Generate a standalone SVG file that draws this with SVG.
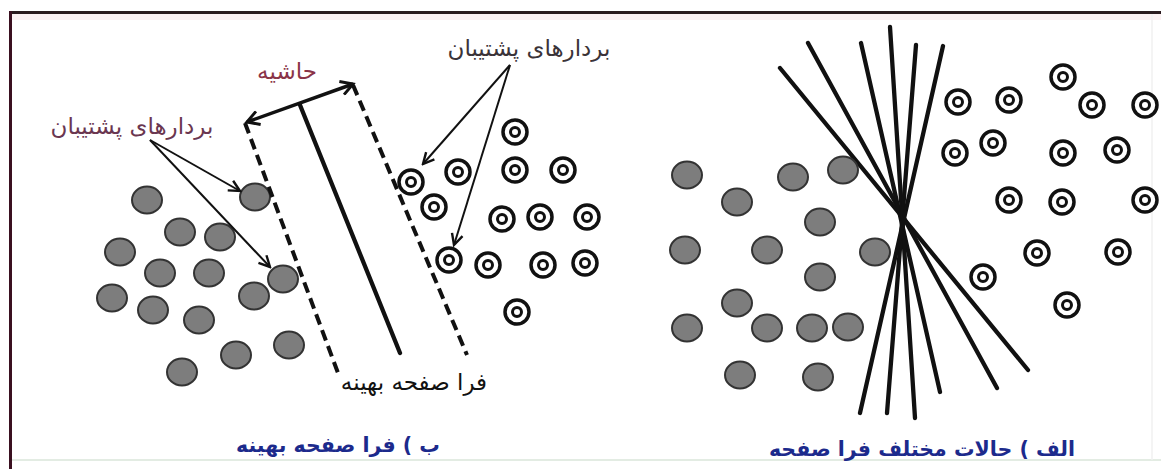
<svg xmlns="http://www.w3.org/2000/svg" width="1161" height="469" viewBox="0 0 1161 469">
<style>
.g{fill:#7d7d7d;stroke:#333;stroke-width:2}
.ro{fill:#fff;stroke:#111;stroke-width:3.5}
.ri{fill:#fff;stroke:#111;stroke-width:3}
.ln{stroke:#111;stroke-width:4.3;fill:none;stroke-linecap:round}
.dash{stroke:#111;stroke-width:4;fill:none;stroke-dasharray:11 6}
.arr{stroke:#111;stroke-width:2;fill:none}
.t{font-family:"DejaVu Sans",sans-serif;font-size:23px;text-anchor:middle}
.cap{font-family:"DejaVu Sans",sans-serif;font-size:20.5px;font-weight:bold;fill:#1c2a8c;text-anchor:middle}
</style>
<defs>
<marker id="ah" markerWidth="14" markerHeight="14" refX="12" refY="7" orient="auto" markerUnits="userSpaceOnUse">
<path d="M1,1.5 L12,7 L1,12.5" fill="none" stroke="#111" stroke-width="2.4"/>
</marker>
<marker id="ah2" markerWidth="16" markerHeight="16" refX="13" refY="8" orient="auto-start-reverse" markerUnits="userSpaceOnUse">
<path d="M1,1 L13,8 L1,15" fill="none" stroke="#111" stroke-width="3"/>
</marker>
<g id="ring"><circle r="12" class="ro"/><circle r="4.5" class="ri"/></g>
</defs>
<rect width="1161" height="469" fill="#fff"/>
<g id="frame">
<rect x="11" y="14" width="1150" height="6" fill="#fbf0f2"/>
<line x1="10" y1="12.5" x2="1161" y2="12.5" stroke="#2a1a1e" stroke-width="3"/>
<line x1="10.5" y1="11" x2="10.5" y2="469" stroke="#3a1020" stroke-width="3"/>
<line x1="12" y1="460" x2="1161" y2="460" stroke="#e3ece3" stroke-width="2"/>
<line x1="1152" y1="14" x2="1152" y2="460" stroke="#f0f0f0" stroke-width="1.5"/>
</g>
<g id="panel-b-negative">
<ellipse class="g" cx="147" cy="200" rx="15" ry="13.5"/>
<ellipse class="g" cx="255" cy="197" rx="15" ry="13.5"/>
<ellipse class="g" cx="180" cy="232" rx="15" ry="13.5"/>
<ellipse class="g" cx="220" cy="237" rx="15" ry="13.5"/>
<ellipse class="g" cx="120" cy="252" rx="15" ry="13.5"/>
<ellipse class="g" cx="160" cy="273" rx="15" ry="13.5"/>
<ellipse class="g" cx="209" cy="273" rx="15" ry="13.5"/>
<ellipse class="g" cx="283" cy="279" rx="15" ry="13.5"/>
<ellipse class="g" cx="112" cy="298" rx="15" ry="13.5"/>
<ellipse class="g" cx="153" cy="310" rx="15" ry="13.5"/>
<ellipse class="g" cx="254" cy="296" rx="15" ry="13.5"/>
<ellipse class="g" cx="199" cy="320" rx="15" ry="13.5"/>
<ellipse class="g" cx="289" cy="345" rx="15" ry="13.5"/>
<ellipse class="g" cx="236" cy="355" rx="15" ry="13.5"/>
<ellipse class="g" cx="182" cy="372" rx="15" ry="13.5"/>
</g>
<g id="panel-b-positive">
<use href="#ring" x="515" y="132"/>
<use href="#ring" x="411" y="182"/>
<use href="#ring" x="458" y="172"/>
<use href="#ring" x="515" y="170"/>
<use href="#ring" x="563" y="170"/>
<use href="#ring" x="434" y="207"/>
<use href="#ring" x="502" y="219"/>
<use href="#ring" x="540" y="217"/>
<use href="#ring" x="587" y="217"/>
<use href="#ring" x="449" y="260"/>
<use href="#ring" x="488" y="265"/>
<use href="#ring" x="543" y="265"/>
<use href="#ring" x="585" y="263"/>
<use href="#ring" x="517" y="312"/>
</g>
<g id="connectors">
<line class="dash" x1="245" y1="123" x2="338" y2="373"/>
<line class="dash" x1="353" y1="85" x2="467" y2="355"/>
<line class="ln" x1="300" y1="105" x2="400" y2="353"/>
<line x1="247" y1="122" x2="353" y2="84" stroke="#111" stroke-width="3.5" marker-start="url(#ah2)" marker-end="url(#ah2)"/>
<line class="arr" x1="150" y1="140" x2="240" y2="191" marker-end="url(#ah)"/>
<line class="arr" x1="150" y1="140" x2="270" y2="267" marker-end="url(#ah)"/>
<line class="arr" x1="510" y1="65" x2="423" y2="164" marker-end="url(#ah)"/>
<line class="arr" x1="510" y1="65" x2="454" y2="245" marker-end="url(#ah)"/>
<line class="ln" x1="780" y1="68" x2="1028" y2="370"/>
<line class="ln" x1="808" y1="43" x2="997" y2="388"/>
<line class="ln" x1="861" y1="43" x2="940" y2="392"/>
<line class="ln" x1="890" y1="27" x2="915" y2="418"/>
<line class="ln" x1="916" y1="45" x2="887" y2="413"/>
<line class="ln" x1="943" y1="46" x2="860" y2="413"/>
</g>
<g id="panel-a-negative">
<ellipse class="g" cx="687" cy="175" rx="15" ry="13.5"/>
<ellipse class="g" cx="737" cy="202" rx="15" ry="13.5"/>
<ellipse class="g" cx="793" cy="177" rx="15" ry="13.5"/>
<ellipse class="g" cx="843" cy="170" rx="15" ry="13.5"/>
<ellipse class="g" cx="820" cy="222" rx="15" ry="13.5"/>
<ellipse class="g" cx="685" cy="250" rx="15" ry="13.5"/>
<ellipse class="g" cx="767" cy="250" rx="15" ry="13.5"/>
<ellipse class="g" cx="875" cy="252" rx="15" ry="13.5"/>
<ellipse class="g" cx="820" cy="277" rx="15" ry="13.5"/>
<ellipse class="g" cx="737" cy="303" rx="15" ry="13.5"/>
<ellipse class="g" cx="687" cy="328" rx="15" ry="13.5"/>
<ellipse class="g" cx="767" cy="328" rx="15" ry="13.5"/>
<ellipse class="g" cx="812" cy="328" rx="15" ry="13.5"/>
<ellipse class="g" cx="848" cy="327" rx="15" ry="13.5"/>
<ellipse class="g" cx="740" cy="375" rx="15" ry="13.5"/>
<ellipse class="g" cx="818" cy="377" rx="15" ry="13.5"/>
</g>
<g id="panel-a-positive">
<use href="#ring" x="1063" y="77"/>
<use href="#ring" x="958" y="102"/>
<use href="#ring" x="1009" y="100"/>
<use href="#ring" x="1092" y="105"/>
<use href="#ring" x="1145" y="105"/>
<use href="#ring" x="955" y="153"/>
<use href="#ring" x="993" y="143"/>
<use href="#ring" x="1063" y="153"/>
<use href="#ring" x="1117" y="150"/>
<use href="#ring" x="1009" y="200"/>
<use href="#ring" x="1062" y="202"/>
<use href="#ring" x="1145" y="200"/>
<use href="#ring" x="1037" y="253"/>
<use href="#ring" x="1118" y="252"/>
<use href="#ring" x="983" y="277"/>
<use href="#ring" x="1067" y="305"/>
</g>
<g id="labels">
<text class="t" x="287" y="79" fill="#8a3448">حاشیه</text>
<text class="t" x="132" y="134" fill="#6a3650">بردارهای پشتیبان</text>
<text class="t" x="529" y="56" fill="#3a3338">بردارهای پشتیبان</text>
<text class="t" x="414" y="390" fill="#111">فرا صفحه بهینه</text>
<text class="cap" x="338" y="452">ب ) فرا صفحه بهینه</text>
<text class="cap" x="922" y="456">الف ) حالات مختلف فرا صفحه</text>
</g>
</svg>
